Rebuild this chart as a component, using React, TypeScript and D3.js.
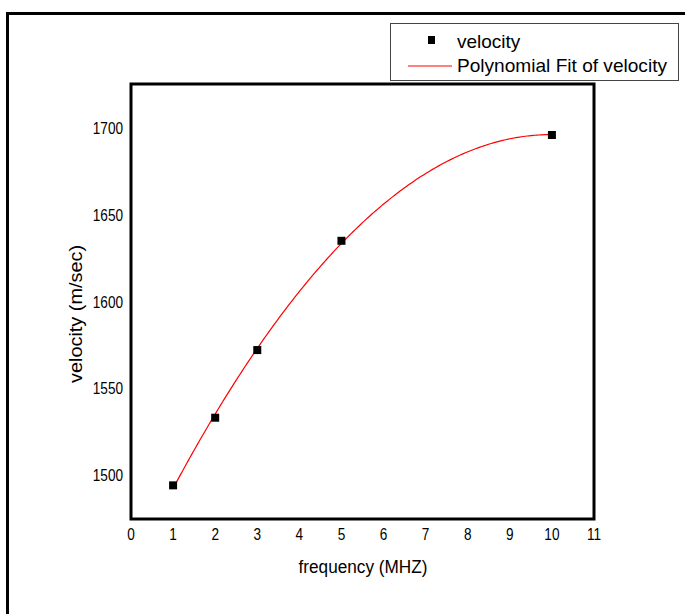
import React from "react";
import * as d3 from "d3";

const frequency = [1, 2, 3, 5, 10];
const velocity = [1494, 1533, 1572, 1635, 1696];
const xTicks = [0, 1, 2, 3, 4, 5, 6, 7, 8, 9, 10, 11];
const yTicks = [1500, 1550, 1600, 1650, 1700];
const xTitle = "frequency (MHZ)";
const yTitle = "velocity (m/sec)";
const legendItems = ["velocity", "Polynomial Fit of velocity"];

// quadratic least squares fit of the data
function quadFit(xs: number[], ys: number[]) {
  const n = xs.length;
  const s = [0, 0, 0, 0, 0];
  const t = [0, 0, 0];
  for (let i = 0; i < n; i++) {
    const x = xs[i], y = ys[i];
    for (let k = 0; k < 5; k++) s[k] += Math.pow(x, k);
    for (let k = 0; k < 3; k++) t[k] += Math.pow(x, k) * y;
  }
  const A = [
    [s[0], s[1], s[2], t[0]],
    [s[1], s[2], s[3], t[1]],
    [s[2], s[3], s[4], t[2]],
  ];
  for (let i = 0; i < 3; i++) {
    for (let j = i + 1; j < 3; j++) {
      const f = A[j][i] / A[i][i];
      for (let k = i; k < 4; k++) A[j][k] -= f * A[i][k];
    }
  }
  const c = [0, 0, 0];
  for (let i = 2; i >= 0; i--) {
    let v = A[i][3];
    for (let k = i + 1; k < 3; k++) v -= A[i][k] * c[k];
    c[i] = v / A[i][i];
  }
  return (x: number) => c[0] + c[1] * x + c[2] * x * x;
}

export default function App() {
  const W = 685, H = 614;
  const left = 131, right = 594, top = 84, bottom = 519;
  const x = d3.scaleLinear().domain([0, 11]).range([left, right]);
  const y = d3.scaleLinear().domain([1474.6, 1725.4]).range([bottom, top]);
  const fit = quadFit(frequency, velocity);
  const xMin = d3.min(frequency)!, xMax = d3.max(frequency)!;
  const fitPts: [number, number][] = d3
    .range(0, 201)
    .map((i) => xMin + ((xMax - xMin) * i) / 200)
    .map((v) => [v, fit(v)]);
  const line = d3
    .line<[number, number]>()
    .x((d) => x(d[0]))
    .y((d) => y(d[1]));
  const font = "Liberation Sans, Arial, sans-serif";
  const sx = 0.85;
  return (
    <svg
      width={W}
      height={H}
      style={{ position: "absolute", left: 0, top: 0, background: "#fff" }}
      fontFamily={font}
    >
      <rect x={0} y={0} width={W} height={H} fill="#fff" />
      {/* outer frame */}
      <rect x={7.5} y={13.5} width={W + 20} height={H + 20} fill="none" stroke="#000" strokeWidth={3} />
      {/* plot frame */}
      <rect x={left} y={top} width={right - left} height={bottom - top} fill="none" stroke="#000" strokeWidth={3} />
      {/* x tick labels */}
      {xTicks.map((t) => (
        <text
          key={"x" + t}
          transform={`translate(${x(t)},540) scale(${sx},1)`}
          textAnchor="middle"
          fontSize={16}
          fill="#000"
        >
          {t}
        </text>
      ))}
      {/* y tick labels */}
      {yTicks.map((t) => (
        <text
          key={"y" + t}
          transform={`translate(123,${y(t) + 6}) scale(${sx},1)`}
          textAnchor="end"
          fontSize={16}
          fill="#000"
        >
          {t}
        </text>
      ))}
      <text x={363} y={573} textAnchor="middle" fontSize={17.5} fill="#000" textLength={129} lengthAdjust="spacingAndGlyphs">
        {xTitle}
      </text>
      <text
        transform={`translate(82,314) rotate(-90)`}
        textAnchor="middle"
        fontSize={19}
        fill="#000"
        textLength={138}
        lengthAdjust="spacingAndGlyphs"
      >
        {yTitle}
      </text>
      {/* fit curve */}
      <path d={line(fitPts) || ""} fill="none" stroke="#ff0000" strokeWidth={1.2} />
      {/* markers */}
      {frequency.map((f, i) => (
        <rect key={"m" + i} x={x(f) - 4} y={y(velocity[i]) - 4} width={8} height={8} fill="#000" />
      ))}
      {/* legend */}
      <rect x={390.5} y={23.5} width={288} height={57} fill="#fff" stroke="#444" strokeWidth={1} />
      <rect x={428} y={36} width={7} height={8} fill="#000" />
      <text x={457} y={48} fontSize={19} fill="#000">
        {legendItems[0]}
      </text>
      <line x1={408} x2={452} y1={66} y2={66} stroke="#ff0000" strokeWidth={1} />
      <text x={457} y={72} fontSize={19} fill="#000" textLength={210} lengthAdjust="spacingAndGlyphs">
        {legendItems[1]}
      </text>
    </svg>
  );
}
